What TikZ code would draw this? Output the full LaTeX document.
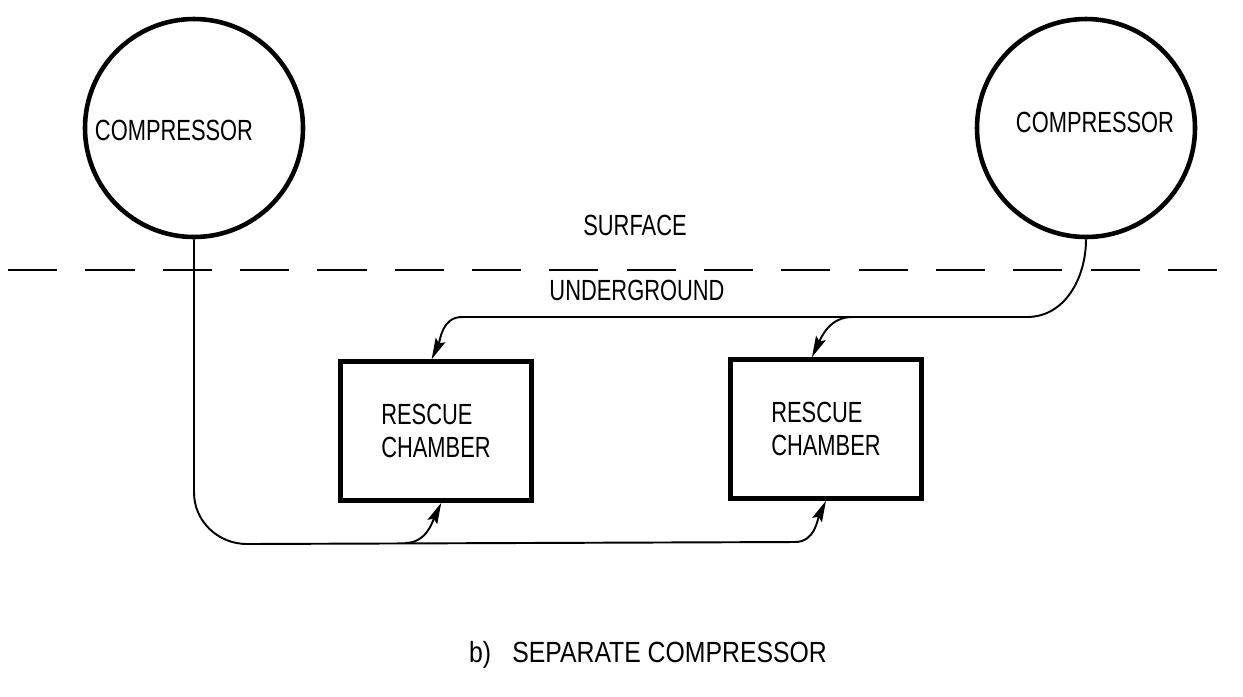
\documentclass[tikz,border=0pt]{standalone}
\usepackage{fontspec}
\setmainfont[FakeStretch=0.75]{Liberation Sans}
\newfontfamily\captionfont[FakeStretch=0.85]{Liberation Sans}
\usetikzlibrary{arrows.meta}

\begin{document}
\begin{tikzpicture}[x=0.2mm, y=0.2mm,
  every node/.style={font=\fontsize{16.6pt}{18.7pt}\selectfont},
  compressor/.style={draw, circle, line width=2.6pt, minimum size=4.36cm, inner sep=0pt},
  chamber/.style={draw, rectangle, line width=2.6pt, minimum width=3.82cm,
    minimum height=2.78cm, align=left},
  pipe/.style={line width=1.1pt, -{Stealth[length=12pt, width=6pt, inset=2pt]}},
  ground/.style={line width=1pt, dash pattern=on 28pt off 16pt}]
  \useasboundingbox (0,0) rectangle (1243,-696);

  % compressors on the surface
  \node[compressor] (compL) at (194,-128) {};
  \node[compressor] (compR) at (1086,-128) {};
  \node (compLtxt) at (174,-130) {COMPRESSOR};
  \node (compRtxt) at (1095,-122) {COMPRESSOR};

  % surface line
  \coordinate (gndW) at (8,-270);
  \coordinate (gndE) at (1240,-270);
  \draw[ground] (gndW) -- (gndE);
  \node (surf) at (635,-225) {SURFACE};
  \node (under) at (637,-290) {UNDERGROUND};

  % rescue chambers
  \node[chamber] (boxL) at (436,-431) {RESCUE\\CHAMBER};
  \node[chamber] (boxR) at (826,-429) {RESCUE\\CHAMBER};

  % supply lines
  \coordinate (rtop) at (1027,-317);
  \coordinate (rfork) at (852,-317);
  \coordinate (ltop) at (462,-317);
  \coordinate (lbot) at (247,-544);
  \coordinate (lfork) at (405,-543);
  \coordinate (rbot) at (795,-542);

  \draw[pipe] (compR.south) to[out=-90,in=0] (rtop) -- (ltop)
    to[out=180,in=65] ([xshift=-2.5pt]boxL.north);
  \draw[pipe] (rfork) to[out=180,in=65] ([xshift=-8pt]boxR.north);

  \draw[pipe] (compL.south) -- ++(0,-253) to[out=-90,in=180] (lbot) -- (rbot)
    to[out=0,in=-115] (boxR.south);
  \draw[pipe] (lfork) to[out=0,in=-115] ([xshift=3pt]boxL.south);

  \node (caption) at (648,-655) {\captionfont b)\hspace{12pt}SEPARATE COMPRESSOR};
\end{tikzpicture}
\end{document}
